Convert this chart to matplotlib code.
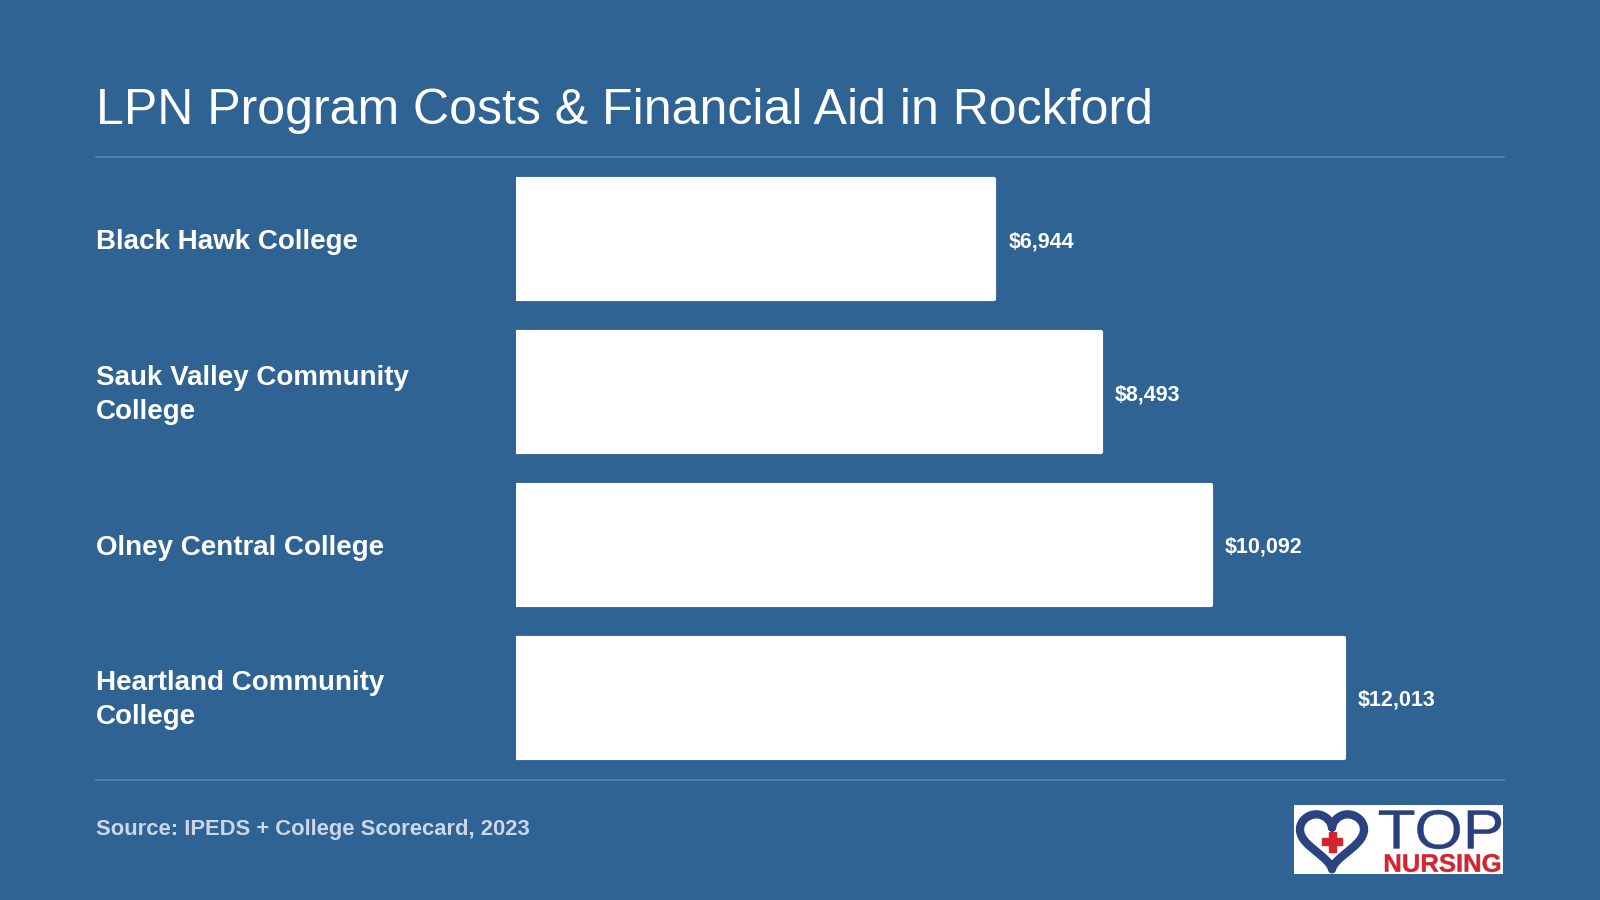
import numpy as np
import matplotlib
matplotlib.use("Agg")
import matplotlib.pyplot as plt
from matplotlib.lines import Line2D
from matplotlib.patches import Rectangle, PathPatch
from matplotlib.textpath import TextPath
from matplotlib.font_manager import FontProperties
from matplotlib.transforms import Affine2D, blended_transform_factory

plt.rcParams["font.family"] = ["Liberation Sans", "DejaVu Sans"]

# data
colleges = [
    "Black Hawk College",
    "Sauk Valley Community\nCollege",
    "Olney Central College",
    "Heartland Community\nCollege",
]
costs = [6944, 8493, 10092, 12013]
title = "LPN Program Costs & Financial Aid in Rockford"
source = "Source: IPEDS + College Scorecard, 2023"

BG = "#2f6393"
RULE = "#5b84ad"
W, H = 1600, 900


def fx(px):
    return px / W


def fy(py):
    return 1 - py / H


fig = plt.figure(figsize=(16, 9), dpi=100, facecolor=BG)

# title and rules
fig.text(fx(96), fy(124), title, color="white", fontsize=36, va="baseline", ha="left")
fig.add_artist(Line2D([fx(96), fx(1504)], [fy(157), fy(157)], color=RULE, lw=1.2))
fig.add_artist(Line2D([fx(96), fx(1504)], [fy(780), fy(780)], color=RULE, lw=1.2))

# bars
ax = fig.add_axes([fx(516), fy(774), fx(1504) - fx(516), (774 - 163) / H])
ax.set_facecolor(BG)
y = np.arange(len(colleges))
bars = ax.barh(y, costs, height=0.785, color="white", edgecolor="white", linewidth=3)
for b in bars:
    b.set_joinstyle("round")
ax.set_xlim(0, 14340)
ax.set_ylim(len(colleges) - 0.5, -0.5)
ax.set_xticks([])
ax.set_yticks([])
for s in ax.spines.values():
    s.set_visible(False)

for yi, v in zip(y, costs):
    ax.annotate(f"${v:,}", xy=(v, yi), xytext=(10, 0), textcoords="offset points",
                va="center_baseline", ha="left", color="white", fontsize=15.5,
                fontweight="bold")

trans = blended_transform_factory(fig.transFigure, ax.transData)
for yi, name in zip(y, colleges):
    if "\n" in name:
        ax.annotate(name, xy=(fx(96), yi), xycoords=trans, xytext=(0, -1.8),
                    textcoords="offset points", ha="left", va="center",
                    color="white", fontsize=20, fontweight="bold", linespacing=1.4)
    else:
        ax.text(fx(96), yi, name, transform=trans, ha="left", va="center_baseline",
                color="white", fontsize=20, fontweight="bold")

fig.text(fx(96), fy(835), source, color="#c9d7e7", fontsize=15.8, fontweight="bold",
         va="baseline", ha="left")

# logo
lg = fig.add_axes([fx(1294), fy(874), 209 / W, 69 / H])
lg.set_xlim(0, 209)
lg.set_ylim(69, 0)
lg.set_facecolor("white")
lg.set_xticks([])
lg.set_yticks([])
for s in lg.spines.values():
    s.set_visible(False)

t = np.linspace(0, 2 * np.pi, 400)
hx = 16 * np.sin(t) ** 3
hy = 13 * np.cos(t) - 5 * np.cos(2 * t) - 2 * np.cos(3 * t) - np.cos(4 * t)
lg.plot(38 + 2.0 * hx, 32 - 1.9 * hy, color="#2b4381", lw=6, solid_capstyle="round")
lg.add_patch(Rectangle((28, 33), 20, 7, color="#d12630"))
lg.add_patch(Rectangle((34.5, 26.5), 7, 20, color="#d12630"))


def logo_word(word, x0, x1, y0, y1, color, weight, edge):
    tp = TextPath((0, 0), word, size=10,
                  prop=FontProperties(family="Liberation Sans", weight=weight))
    ext = tp.get_extents()
    sx = (x1 - x0) / ext.width
    sy = (y1 - y0) / ext.height
    tr = Affine2D().translate(-ext.x0, -ext.y1).scale(sx, -sy).translate(x0, y0)
    lg.add_patch(PathPatch(tr.transform_path(tp), facecolor=color, edgecolor=color,
                           lw=edge))


logo_word("TOP", 85, 207, 5, 44, "#2b3f7f", "normal", 0.3)
logo_word("NURSING", 91, 206, 49, 67, "#d12630", "bold", 0.3)

fig.savefig("out.png", dpi=100, facecolor=BG)
